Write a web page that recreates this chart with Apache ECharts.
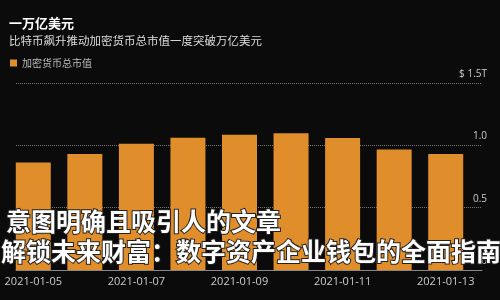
<!DOCTYPE html>
<html><head><meta charset="utf-8">
<script src="https://cdn.jsdelivr.net/npm/echarts@6/dist/echarts.min.js"></script>
<style>html,body{margin:0;padding:0;background:#0b0b0b;}#c{width:500px;height:300px;}</style>
</head><body><div id="c"></div>
<script>
var categories = ['2021-01-05','2021-01-06','2021-01-07','2021-01-08','2021-01-09','2021-01-10','2021-01-11','2021-01-12','2021-01-13'];
var marketCap = [0.862, 0.93, 1.013, 1.06, 1.085, 1.096, 1.058, 0.966, 0.93];
var yTicks = [0, 0.5, 1.0, 1.5];
var yTickLabels = ['0', '0.5', '1.0', '$ 1.5T'];
var seriesName = '加密货币总市值';
var titleText = '一万亿美元';
var subtitleText = '比特币飙升推动加密货币总市值一度突破万亿美元';
var overlayLine1 = '意图明确且吸引人的文章';
var overlayLine2 = '解锁未来财富：数字资产企业钱包的全面指南';

var chart = echarts.init(document.getElementById('c'), null, {renderer:'canvas'});
var cjk = '"Noto Sans CJK SC", sans-serif';
chart.setOption({
  backgroundColor: '#0b0b0b',
  animation: false,
  title: {
    text: titleText, subtext: subtitleText, left: 4, top: 12, itemGap: 5,
    textStyle: {color: '#ffffff', fontSize: 13, fontWeight: 'bold', fontFamily: cjk},
    subtextStyle: {color: '#dddddd', fontSize: 11.5, fontFamily: cjk}
  },
  legend: {
    data: [seriesName], left: 5, top: 53, icon: 'rect', itemWidth: 7, itemHeight: 7, itemGap: 4,
    textStyle: {color: '#bbbbbb', fontSize: 10, fontFamily: cjk}
  },
  grid: [
    {left: 7.5, right: 28.5, top: 83, bottom: 30},
    {left: 16, right: 18, top: 83, bottom: 30}
  ],
  xAxis: [
    {type: 'category', gridIndex: 0, data: categories,
     axisLine: {show: false}, axisTick: {show: false},
     axisLabel: {interval: 1, color: '#cccccc', fontSize: 11, margin: 6, fontFamily: '"Open Sans", sans-serif'}},
    {type: 'value', gridIndex: 1, min: 0, max: 1,
     axisLine: {show: true, onZero: false, lineStyle: {color: '#888888', width: 1}},
     axisTick: {show: false}, axisLabel: {show: false}, splitLine: {show: false}}
  ],
  yAxis: [
    {type: 'value', gridIndex: 0, min: 0, max: 1.5, show: false},
    {type: 'value', gridIndex: 1, min: 0, max: 1.5, interval: 0.5, position: 'right',
     axisLine: {show: false}, axisTick: {show: false},
     splitLine: {show: true, lineStyle: {color: '#777777', type: 'dotted', width: 1}},
     axisLabel: {inside: true, margin: -5, verticalAlign: 'bottom', padding: [0,0,4,0],
       color: '#cccccc', fontSize: 10, fontFamily: '"Open Sans", sans-serif',
       formatter: function(v){ var i = yTicks.indexOf(v); return i >= 0 ? yTickLabels[i] : ''; }}}
  ],
  series: [
    {name: seriesName, type: 'bar', xAxisIndex: 0, yAxisIndex: 0, data: marketCap, barWidth: 35,
     itemStyle: {color: '#e08e2c'}, z: 2}
  ],
  graphic: [
    {type: 'text', left: 5, top: 208, z: 100,
     style: {text: overlayLine1, fill: '#ffffff', stroke: '#222222', lineWidth: 2,
       font: 'bold 25px "Noto Sans CJK SC"'}},
    {type: 'text', left: 0, top: 238, z: 100,
     style: {text: overlayLine2, fill: '#ffffff', stroke: '#222222', lineWidth: 2,
       font: 'bold 25px "Noto Sans CJK SC"'}}
  ]
});
</script></body></html>
